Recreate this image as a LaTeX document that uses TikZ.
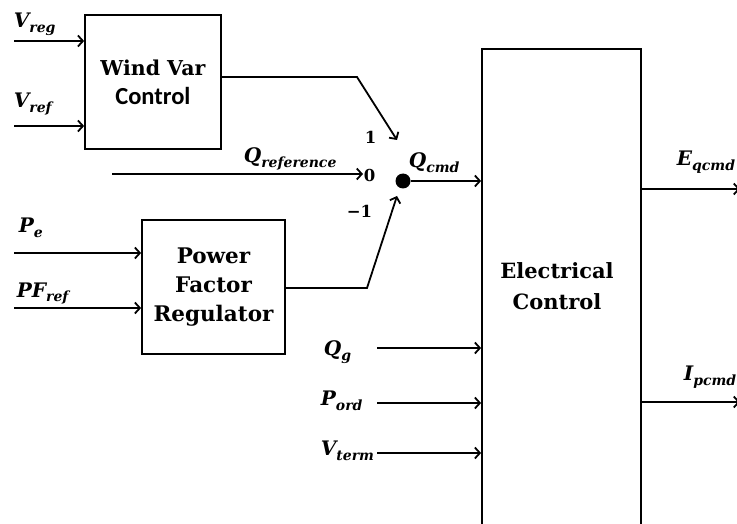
\documentclass[tikz,border=0pt]{standalone}
\usepackage{fontspec}
\setmainfont{DejaVu Serif}
\newfontfamily\calib{Carlito}
\usetikzlibrary{arrows.meta}
\newcommand{\lab}[2]{#1\raisebox{-5pt}{\fontsize{14}{14}\selectfont #2}}
\begin{document}
\begin{tikzpicture}[x=1pt,y=-1pt,
  line width=1.8pt,
  arr/.style={-{Straight Barb[length=5pt,width=11pt,line width=1.8pt]}},
  blk/.style={draw, line width=1.8pt, inner sep=0pt, align=center},
  btxt/.style={font=\fontsize{20.5}{30}\selectfont\bfseries},
  lbl/.style={anchor=base west, inner sep=0pt, font=\fontsize{20}{24}\selectfont\bfseries\itshape},
  num/.style={anchor=base west, inner sep=0pt, font=\fontsize{16.5}{18}\selectfont\bfseries}]
\useasboundingbox (0,0) rectangle (737,524);
\clip (0,0) rectangle (737,524);

% blocks
\node[blk, minimum width=135.7pt, minimum height=134pt, btxt] (wvc) at (152.9,82)
  {Wind Var\\[-1pt]{\calib\bfseries\fontsize{24.5}{26}\selectfont Control}};
\node[blk, minimum width=143pt, minimum height=134pt, btxt, font=\fontsize{21.5}{29}\selectfont\bfseries] (pfr) at (213.5,287)
  {Power\\Factor\\Regulator};
\node[blk, minimum width=159pt, minimum height=484pt] (ec) at (561.5,291) {};
\node[btxt, align=center, inner sep=0pt, font=\fontsize{21}{31}\selectfont\bfseries] (ectext) at (557,286) {Electrical\\Control};

% switch
\node[circle, fill=black, inner sep=0pt, minimum size=15pt] (sw) at (403,181) {};
\coordinate (c1) at (397,140);
\coordinate (c0) at (363,174);
\coordinate (cm1) at (397,196);
\coordinate (k1) at (357,77);
\coordinate (k2) at (367,288);

% input start points
\coordinate (vreg) at (14,41);
\coordinate (vref) at (14,126);
\coordinate (pe) at (14,253);
\coordinate (pfref) at (14,308);
\coordinate (qref) at (112,174);
\coordinate (qg) at (377,348);
\coordinate (pord) at (377,403);
\coordinate (vterm) at (377,453);
\coordinate (eq) at (740,189);
\coordinate (ip) at (740,402);

% connectors
\draw[arr] (vreg) -- (vreg -| wvc.west);
\draw[arr] (vref) -- (vref -| wvc.west);
\draw[arr] (pe) -- (pe -| pfr.west);
\draw[arr] (pfref) -- (pfref -| pfr.west);
\draw[arr] (wvc.east |- k1) -- (k1) -- (c1);
\draw[arr] (pfr.east |- k2) -- (k2) -- (cm1);
\draw[arr] (qref) -- (c0);
\draw[arr] (sw) -- (sw -| ec.west);
\draw[arr] (qg) -- (qg -| ec.west);
\draw[arr] (pord) -- (pord -| ec.west);
\draw[arr] (vterm) -- (vterm -| ec.west);
\draw[arr] (eq -| ec.east) -- (eq);
\draw[arr] (ip -| ec.east) -- (ip);

% labels
\node[lbl] (lvreg) at (13,28) {\lab{V}{reg}};
\node[lbl] (lvref) at (13,108) {\lab{V}{ref}};
\node[lbl] (lqref) at (243,163) {\lab{Q}{reference}};
\node[num] (l1) at (364,144) {1};
\node[num] (l0) at (363,182) {0};
\node[num] (lm1) at (346,218) {−1};
\node[lbl] (lpe) at (18,233) {\lab{P}{e}};
\node[lbl] (lpfref) at (16,297) {\lab{PF}{ref}};
\node[lbl] (lqg) at (323,355) {\lab{Q}{g}};
\node[lbl] (lpord) at (320,405) {\lab{P}{ord}};
\node[lbl] (lvterm) at (320,455) {\lab{V}{term}};
\node[lbl] (lqcmd) at (408,168) {\lab{Q}{cmd}};
\node[lbl] (leq) at (676,166) {\lab{E}{qcmd}};
\node[lbl] (lip) at (683,380) {\lab{I}{pcmd}};
\end{tikzpicture}
\end{document}
